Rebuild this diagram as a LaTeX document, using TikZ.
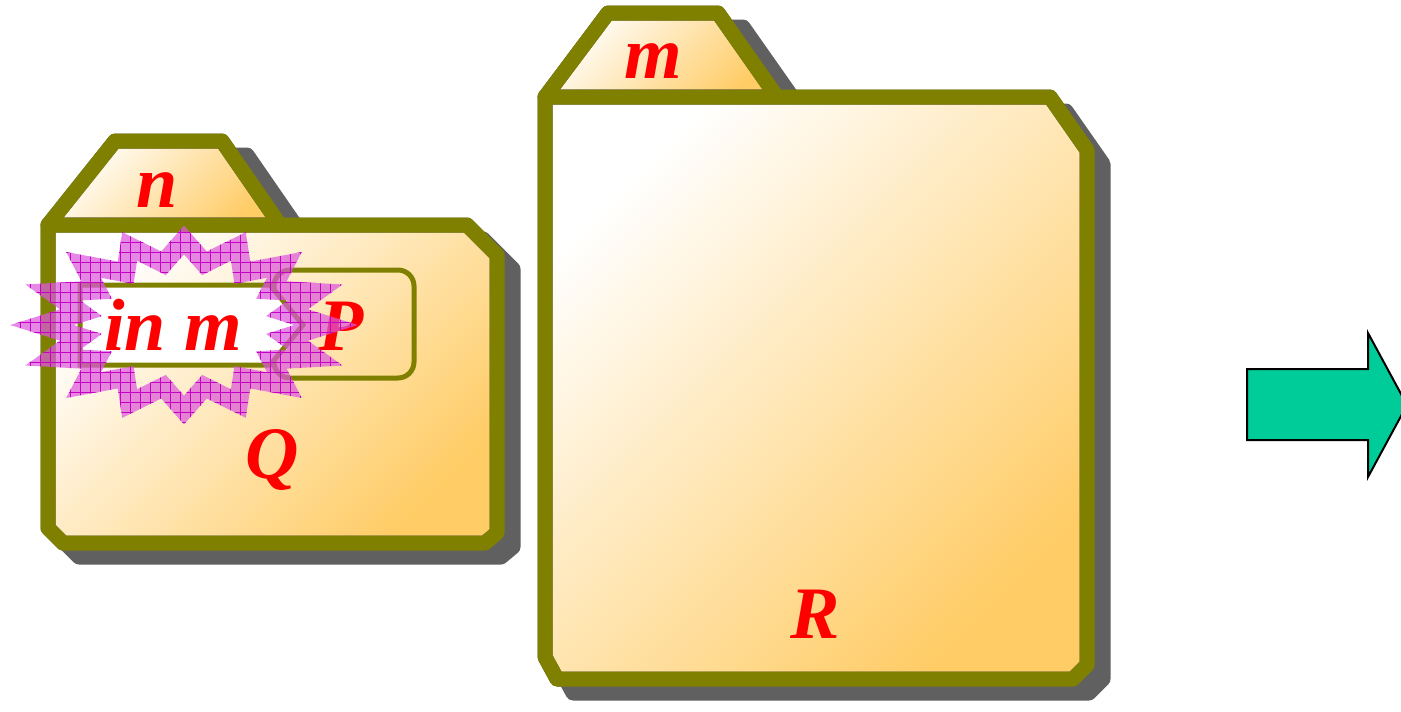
\documentclass[tikz,border=0pt]{standalone}
\usepackage{fontspec}
\setmainfont{Liberation Serif}
\usetikzlibrary{patterns.meta}

\definecolor{folderedge}{RGB}{128,128,0}
\definecolor{foldertan}{RGB}{255,204,102}
\definecolor{foldshadow}{RGB}{96,96,96}
\definecolor{burst}{RGB}{220,90,220}
\definecolor{burstline}{RGB}{195,0,195}
\definecolor{arrowgreen}{RGB}{0,204,153}

\begin{document}
\begin{tikzpicture}[x=1pt,y=-1pt,line join=round,
  declare function={
    sr(\j)=ifthenelse(mod(\j,2)==0,1,0.74);
    sx(\j)=142*sr(\j)*cos(\j*11.25);
    sy(\j)=85*sr(\j)*sin(\j*11.25);
  }]

\tikzstyle{edge}=[draw=folderedge,line width=15pt]
\tikzstyle{paper}=[top color=white,bottom color=foldertan,shading angle=45]
\tikzstyle{shade}=[fill=foldshadow,draw=foldshadow,line width=15pt]
\tikzstyle{lab}=[text=red,font=\fontsize{74}{74}\selectfont\bfseries\itshape,inner sep=0pt,anchor=base]
\tikzstyle{tag}=[draw=folderedge,line width=5pt]

\useasboundingbox (0,0) rectangle (1401,712);

% shadows
\path[shade,shift={(25,14)}] (48,225) -- (115,141) -- (222,141) -- (280,225) -- cycle;
\path[shade,shift={(16,14)}] (48,225) -- (467,225) -- (497,255) -- (497,533) -- (485,543) -- (63,543) -- (48,528) -- cycle;
\path[shade,shift={(25,14)}] (545,97) -- (608,13) -- (718,13) -- (777,97) -- cycle;
\path[shade,shift={(16,14)}] (545,97) -- (1050,97) -- (1087,150) -- (1087,665) -- (1073,679) -- (557,679) -- (545,657) -- cycle;

% folder n / Q
\shade[paper] (48,225) -- (115,141) -- (222,141) -- (280,225) -- cycle;
\shade[paper] (48,225) -- (467,225) -- (497,255) -- (497,533) -- (485,543) -- (63,543) -- (48,528) -- cycle;
\draw[edge] (48,225) -- (115,141) -- (222,141) -- (280,225);
\draw[edge] (48,225) -- (467,225) -- (497,255) -- (497,533) -- (485,543) -- (63,543) -- (48,528) -- cycle;

% folder m / R
\shade[paper] (545,97) -- (608,13) -- (718,13) -- (777,97) -- cycle;
\shade[paper] (545,97) -- (1050,97) -- (1087,150) -- (1087,665) -- (1073,679) -- (557,679) -- (545,657) -- cycle;
\draw[edge] (545,97) -- (608,13) -- (718,13) -- (777,97);
\draw[edge] (545,97) -- (1050,97) -- (1087,150) -- (1087,665) -- (1073,679) -- (557,679) -- (545,657) -- cycle;

% process P and the capability
\draw[tag,rounded corners=16pt] (274,270) rectangle (414,378);
\draw[tag,fill=white,line join=miter] (80,285) -- (270,285) -- (303,325) -- (270,365) -- (80,365) -- cycle;

\node[lab] (labn) at (157,207) {n};
\node[lab] (labm) at (653,78) {m};
\node[lab] (labin) at (173,350) {in m};
\node[lab] (labP) at (341,350) {P};
\node[lab] (labQ) at (272,478) {Q};
\node[lab] (labR) at (815,638) {R};

% burst band: mitred offsets of a 16-point star
\foreach \k in {0,...,31} {
  \pgfmathsetmacro\ax{sx(\k)-sx(\k-1)} \pgfmathsetmacro\ay{sy(\k)-sy(\k-1)}
  \pgfmathsetmacro\al{veclen(\ax,\ay)}
  \pgfmathsetmacro\bx{sx(\k+1)-sx(\k)} \pgfmathsetmacro\by{sy(\k+1)-sy(\k)}
  \pgfmathsetmacro\bl{veclen(\bx,\by)}
  \pgfmathsetmacro\nx{\ay/\al+\by/\bl} \pgfmathsetmacro\ny{-\ax/\al-\bx/\bl}
  \pgfmathsetmacro\dt{(\ay*\by+\ax*\bx)/(\al*\bl)}
  \pgfmathsetmacro\mx{9.5*\nx/(1+\dt)} \pgfmathsetmacro\my{9.5*\ny/(1+\dt)}
  \coordinate (bo\k) at ({184+sx(\k)+\mx},{325-sy(\k)-\my});
  \coordinate (bi\k) at ({184+sx(\k)-\mx},{325-sy(\k)+\my});
}
\tikzstyle{band}=[even odd rule]
\fill[band,burst,fill opacity=0.72] (bo0) \foreach \k in {1,...,31} {-- (bo\k)} -- cycle
  (bi0) \foreach \k in {1,...,31} {-- (bi\k)} -- cycle;
\fill[band,pattern={Hatch[distance=10pt,angle=0,line width=0.9pt]},pattern color=burstline] (bo0) \foreach \k in {1,...,31} {-- (bo\k)} -- cycle
  (bi0) \foreach \k in {1,...,31} {-- (bi\k)} -- cycle;

% reduction arrow
\draw[fill=arrowgreen,line width=2pt,line join=miter] (1247,369) -- (1368,369) -- (1368,333) -- (1407,405) -- (1368,477) -- (1368,440) -- (1247,440) -- cycle;

\end{tikzpicture}
\end{document}
